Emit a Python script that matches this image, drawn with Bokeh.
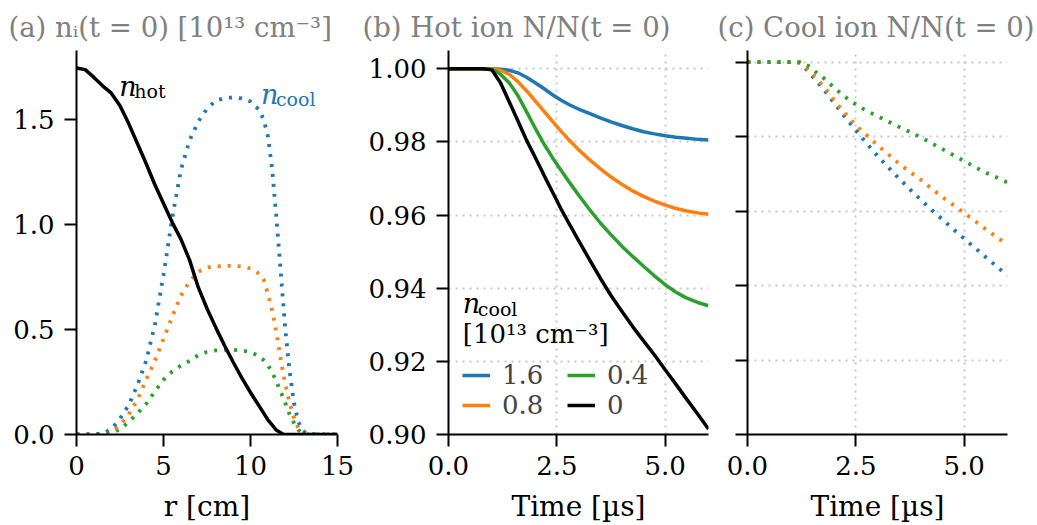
from bokeh.plotting import figure
from bokeh.layouts import row
from bokeh.models import Range1d, FixedTicker, NumeralTickFormatter, Label, Legend, LegendItem
from bokeh.embed import file_html
from bokeh.resources import INLINE

FONT = "DejaVu Serif"
BLUE, ORANGE, GREEN, BLACK = "#1f77b4", "#ff7f0e", "#2ca02c", "#000000"
GREY = "#808080"

# ---------------- (a) initial density profiles ----------------
r_hot = [0, 0.5, 1, 1.5, 2, 2.5, 3, 3.5, 4, 4.5, 5, 5.5, 6, 6.5, 7, 7.5, 8, 8.5, 9,
         9.5, 10, 10.5, 11, 11.5, 11.9, 12.5, 13, 14, 15]
n_hot = [1.745, 1.737, 1.70, 1.66, 1.625, 1.565, 1.48, 1.385, 1.29, 1.19, 1.10, 1.01,
         0.93, 0.83, 0.70, 0.60, 0.51, 0.425, 0.345, 0.27, 0.20, 0.135, 0.07, 0.02, 0.0,
         0.0, 0.0, 0.0, 0.0]

r_cool = [0, 1, 1.5, 2, 2.5, 3, 3.5, 4, 4.5, 5, 5.5, 6, 6.5, 7, 7.5, 8, 8.5, 9, 9.5, 10,
          10.5, 10.75, 11, 11.25, 11.5, 11.75, 12, 12.25, 12.5, 12.75, 13, 13.25, 14, 15]
n_cool_16 = [0, 0, 0.004, 0.025, 0.075, 0.14, 0.235, 0.35, 0.52, 0.76, 1.03, 1.26, 1.40,
             1.49, 1.55, 1.59, 1.60, 1.605, 1.60, 1.585, 1.545, 1.50, 1.42, 1.26, 1.02,
             0.76, 0.50, 0.30, 0.15, 0.06, 0.018, 0.003, 0, 0]
n_cool_08 = [0, 0, 0.002, 0.012, 0.045, 0.095, 0.165, 0.26, 0.35, 0.455, 0.56, 0.66, 0.73,
             0.775, 0.795, 0.80, 0.803, 0.803, 0.80, 0.79, 0.765, 0.74, 0.67, 0.59, 0.48,
             0.35, 0.24, 0.15, 0.08, 0.03, 0.008, 0, 0, 0]
n_cool_04 = [0, 0, 0, 0.006, 0.025, 0.06, 0.10, 0.145, 0.205, 0.26, 0.30, 0.328, 0.35,
             0.378, 0.393, 0.40, 0.403, 0.403, 0.40, 0.393, 0.372, 0.355, 0.33, 0.295, 0.25,
             0.20, 0.15, 0.095, 0.055, 0.022, 0.005, 0, 0, 0]

# ---------------- time axis for (b) and (c) ----------------
t = [0, 0.5, 0.8, 1.0, 1.2, 1.4, 1.6, 1.8, 2.0, 2.2, 2.4, 2.6, 2.8, 3.0, 3.25, 3.5,
     3.75, 4.0, 4.25, 4.5, 4.75, 5.0, 5.25, 5.5, 5.75, 6.0]

# ---------------- (b) hot ion N/N(t=0) ----------------
hot_16 = [1, 1, 1, 1.0, 0.9999, 0.9996, 0.9989, 0.9977, 0.9962, 0.9946, 0.9929, 0.9914,
          0.9901, 0.9890, 0.9878, 0.9866, 0.9855, 0.9845, 0.9836, 0.9828, 0.9822, 0.9817,
          0.9813, 0.9810, 0.9807, 0.9805]
hot_08 = [1, 1, 1, 1.0, 0.9996, 0.9985, 0.9965, 0.9940, 0.9912, 0.9884, 0.9856, 0.9829,
          0.9803, 0.9779, 0.9752, 0.9727, 0.9704, 0.9684, 0.9666, 0.9651, 0.9638, 0.9627,
          0.9618, 0.9611, 0.9606, 0.9602]
hot_04 = [1, 1, 1, 0.9999, 0.9985, 0.9962, 0.9927, 0.9883, 0.9838, 0.9795, 0.9757, 0.9722,
          0.9688, 0.9655, 0.9616, 0.9579, 0.9546, 0.9515, 0.9487, 0.9460, 0.9434, 0.9410,
          0.9389, 0.9373, 0.9361, 0.9352]
hot_00 = [1, 1, 1, 0.9997, 0.9962, 0.9910, 0.9858, 0.9805, 0.9758, 0.9710, 0.9663, 0.9616,
          0.9573, 0.9531, 0.9479, 0.9428, 0.9380, 0.9337, 0.9295, 0.9256, 0.9218, 0.9177,
          0.9137, 0.9096, 0.9056, 0.9015]

# ---------------- (c) cool ion N/N(t=0) ----------------
cool_16 = [1, 1, 1, 1, 0.9998, 0.9975, 0.9948, 0.9920, 0.9890, 0.9860, 0.9831, 0.9803,
           0.9775, 0.9748, 0.9717, 0.9687, 0.9658, 0.9630, 0.9603, 0.9577, 0.9551, 0.9526,
           0.9501, 0.9476, 0.9451, 0.9427]
cool_08 = [1, 1, 1, 1, 0.9998, 0.9980, 0.9956, 0.9929, 0.9898, 0.9869, 0.9843, 0.9819,
           0.9798, 0.9777, 0.9752, 0.9727, 0.9705, 0.9684, 0.9660, 0.9637, 0.9616, 0.9595,
           0.9573, 0.9551, 0.9530, 0.9510]
cool_04 = [1, 1, 1, 1, 1.0, 0.9990, 0.9971, 0.9953, 0.9931, 0.9911, 0.9894, 0.9879,
           0.9866, 0.9855, 0.9840, 0.9826, 0.9812, 0.9798, 0.9782, 0.9766, 0.9750, 0.9734,
           0.9718, 0.9703, 0.9690, 0.9677]

legend_labels = ["1.6", "0.8", "0.4", "0"]

titles = ["(a) nᵢ(t = 0) [10¹³ cm⁻³]", "(b) Hot ion N/N(t = 0)", "(c) Cool ion N/N(t = 0)"]


def style(p, grid):
    p.outline_line_color = None
    p.background_fill_color = "white"
    p.border_fill_color = "white"
    for ax in p.axis:
        ax.axis_line_width = 2
        ax.major_tick_line_width = 2
        ax.major_tick_out = 12
        ax.major_tick_in = 0
        ax.minor_tick_out = 0
        ax.minor_tick_in = 0
        ax.major_label_text_font = FONT
        ax.major_label_text_font_size = "26px"
        ax.major_label_text_color = "black"
        ax.axis_label_text_font = FONT
        ax.axis_label_text_font_size = "28px"
        ax.axis_label_text_font_style = "normal"
        ax.axis_label_text_color = "black"
    p.yaxis.major_label_standoff = 10
    p.xaxis.major_label_standoff = 9
    p.xaxis.axis_label_standoff = 12
    if grid:
        p.grid.grid_line_color = "#c8c8c8"
        p.grid.grid_line_dash = "2 5"
        p.grid.grid_line_width = 2
    else:
        p.grid.visible = False
    p.title.text_font = FONT
    p.title.text_font_size = "27.5px"
    p.title.text_font_style = "normal"
    p.title.text_color = GREY
    p.title.align = "left"
    p.title.standoff = 16


H = 525
DOT = "3 7"
# -------- panel a --------
pa = figure(width=356, height=H, output_backend="svg", toolbar_location=None,
            x_range=Range1d(0, 15), y_range=Range1d(0, 1.828),
            min_border_left=76, min_border_right=19, min_border_top=50, min_border_bottom=89,
            title=titles[0], x_axis_label="r [cm]")
style(pa, grid=False)
pa.title.offset = -68
pa.xaxis.ticker = FixedTicker(ticks=[0, 5, 10, 15])
pa.xaxis.formatter = NumeralTickFormatter(format="0")
pa.yaxis.ticker = FixedTicker(ticks=[0, 0.5, 1.0, 1.5])
pa.yaxis.formatter = NumeralTickFormatter(format="0.0")
pa.line(r_cool, n_cool_04, line_color=GREEN, line_width=3.8, line_dash=DOT)
pa.line(r_cool, n_cool_08, line_color=ORANGE, line_width=3.8, line_dash=DOT)
pa.line(r_cool, n_cool_16, line_color=BLUE, line_width=3.8, line_dash=DOT)
pa.line(r_hot, n_hot, line_color=BLACK, line_width=3.5)
pa.add_layout(Label(x=2.46, y=1.657, text="n", text_font=FONT, text_font_style="italic",
                    text_font_size="27px", text_color=BLACK, text_baseline="alphabetic"))
pa.add_layout(Label(x=2.46, y=1.657, x_offset=15, y_offset=-5, text="hot", text_font=FONT,
                    text_font_size="19px", text_color=BLACK, text_baseline="alphabetic"))
pa.add_layout(Label(x=10.6, y=1.62, text="n", text_font=FONT, text_font_style="italic",
                    text_font_size="27px", text_color=BLUE, text_baseline="alphabetic"))
pa.add_layout(Label(x=10.6, y=1.62, x_offset=15, y_offset=-5, text="cool", text_font=FONT,
                    text_font_size="19px", text_color=BLUE, text_baseline="alphabetic"))

# -------- panel b --------
pb = figure(width=360, height=H, output_backend="svg", toolbar_location=None,
            x_range=Range1d(0, 6), y_range=Range1d(0.90, 1.005),
            min_border_left=92, min_border_right=8, min_border_top=50, min_border_bottom=89,
            title=titles[1], x_axis_label="Time [µs]")
style(pb, grid=True)
pb.title.offset = -86
pb.xaxis.ticker = FixedTicker(ticks=[0, 2.5, 5.0])
pb.xaxis.formatter = NumeralTickFormatter(format="0.0")
pb.yaxis.ticker = FixedTicker(ticks=[0.90, 0.92, 0.94, 0.96, 0.98, 1.00])
pb.yaxis.formatter = NumeralTickFormatter(format="0.00")
rb = []
for ys, c in zip([hot_16, hot_08, hot_04, hot_00], [BLUE, ORANGE, GREEN, BLACK]):
    rb.append(pb.line(t, ys, line_color=c, line_width=3.5))
leg = Legend(items=[LegendItem(label=lab, renderers=[rr]) for lab, rr in zip(legend_labels, rb)],
             ncols=2, location=(14, 14), padding=0, margin=0, spacing=0,
             glyph_width=28, glyph_height=20, label_standoff=12, label_width=65,
             label_text_font=FONT, label_text_font_size="26px",
             background_fill_alpha=0, border_line_alpha=0)
pb.add_layout(leg)
pb.add_layout(Label(x=0.33, y=0.9357, text="n", text_font=FONT, text_font_style="italic",
                    text_font_size="27px", text_color=BLACK, text_baseline="alphabetic"))
pb.add_layout(Label(x=0.33, y=0.9357, x_offset=15, y_offset=-5, text="cool", text_font=FONT,
                    text_font_size="19px", text_color=BLACK, text_baseline="alphabetic"))
pb.add_layout(Label(x=0.33, y=0.9276, text="[10¹³ cm⁻³]", text_font=FONT,
                    text_font_size="26px", text_color=BLACK, text_baseline="alphabetic"))

# -------- panel c --------
pc = figure(width=321, height=H, output_backend="svg", toolbar_location=None,
            x_range=Range1d(0, 6), y_range=Range1d(0.90, 1.0031),
            min_border_left=31, min_border_right=30, min_border_top=50, min_border_bottom=89,
            title=titles[2], x_axis_label="Time [µs]")
style(pc, grid=True)
pc.title.offset = -30
pc.xaxis.ticker = FixedTicker(ticks=[0, 2.5, 5.0])
pc.xaxis.formatter = NumeralTickFormatter(format="0.0")
cticks = [0.90, 0.92, 0.94, 0.96, 0.98, 1.00]
pc.yaxis.ticker = FixedTicker(ticks=cticks)
pc.yaxis.major_label_overrides = {v: "" for v in cticks}
pc.yaxis.major_label_standoff = 0
for ys, c in zip([cool_16, cool_08, cool_04], [BLUE, ORANGE, GREEN]):
    pc.line(t, ys, line_color=c, line_width=3.8, line_dash=DOT)

layout = row(pa, pb, pc)
open("out.html", "w").write(file_html(layout, INLINE))
